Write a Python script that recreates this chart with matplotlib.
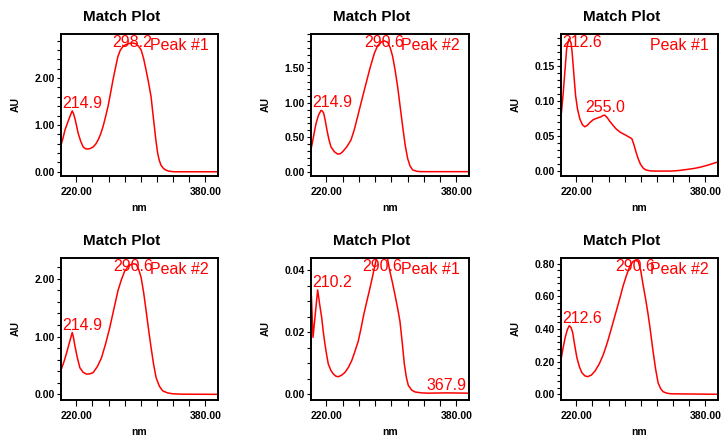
import numpy as np
import matplotlib
matplotlib.use('Agg')
import matplotlib.pyplot as plt
import matplotlib.transforms as mtransforms
from matplotlib.ticker import FixedLocator, MultipleLocator, FuncFormatter

plt.rcParams['font.family'] = ['Liberation Sans', 'DejaVu Sans']

W, H = 723, 437

# spectra (wavelength nm, absorbance AU)
nm1 = [201, 203.5, 205.9, 209, 212, 214.9, 216.5, 218.2, 220.3, 222.3, 225.4, 228.5, 231.5, 234.6,
       237.7, 240.8, 244, 247, 250, 253, 256, 259.2, 262.3, 265.4, 268.5, 271.5, 274.6, 277.7,
       280.8, 283.8, 289, 294.1, 297, 300.3, 303.3, 306.4, 309.5, 312.6, 314.6, 316.7, 318.7,
       320.8, 322.8, 324.9, 328, 331, 335, 341.3, 395.5]
au1 = [0.57, 0.72, 0.89, 1.04, 1.18, 1.30, 1.24, 1.14, 0.98, 0.82, 0.65, 0.53, 0.49, 0.485,
       0.50, 0.53, 0.59, 0.68, 0.80, 0.96, 1.16, 1.39, 1.67, 1.96, 2.22, 2.46, 2.60, 2.67,
       2.71, 2.73, 2.75, 2.73, 2.68, 2.60, 2.42, 2.17, 1.90, 1.60, 1.28, 0.96, 0.65,
       0.39, 0.24, 0.14, 0.07, 0.035, 0.012, 0.0, 0.0]

nm2 = [201, 202.2, 204.7, 207.2, 210.2, 213.3, 215, 216.6, 218.6, 220.7, 223, 225.6, 229.7,
       233.8, 237, 240, 245, 250.2, 254.3, 258.4, 263.5, 268.7, 274, 279, 283, 287.2, 291.3,
       295.4, 298.5, 301.6, 304.6, 307.7, 310.8, 313.9, 317, 320, 323, 326.2, 331, 336, 395.5]
au2 = [0.33, 0.39, 0.55, 0.70, 0.82, 0.89, 0.88, 0.85, 0.74, 0.60, 0.47, 0.36, 0.29,
       0.256, 0.26, 0.29, 0.36, 0.46, 0.61, 0.80, 1.04, 1.28, 1.52, 1.72, 1.83, 1.88, 1.90,
       1.88, 1.80, 1.67, 1.47, 1.23, 0.94, 0.65, 0.38, 0.19, 0.08, 0.025, 0.006, 0.0, 0.0]

nm3 = [201.5, 203.3, 205.1, 208, 210.8, 213.3, 214.7, 216.1, 217.6, 219.1, 221.5, 224.4, 227.5,
       230.5, 233.5, 236.7, 240.8, 244.9, 250, 253, 255.2, 258.3, 261.3, 265.5, 269.6, 274.7,
       279.8, 284.3, 288.8, 291.5, 294.2, 296.8, 299.5, 303, 306.5, 311.6, 316.7, 337, 347,
       357.7, 366, 374.1, 383, 392.6, 395.5]
au3 = [0.083, 0.105, 0.131, 0.174, 0.188, 0.183, 0.17, 0.15, 0.128, 0.107, 0.088, 0.074, 0.066,
       0.063, 0.065, 0.069, 0.073, 0.075, 0.077, 0.079, 0.0796, 0.076, 0.071, 0.065, 0.0596, 0.055,
       0.052, 0.049, 0.046, 0.037, 0.026, 0.017, 0.0096, 0.004, 0.0014, 0.0003, 0.0, 0.0, 0.0008,
       0.0024, 0.0038, 0.0057, 0.0085, 0.012, 0.013]

nm4 = [201.5, 204.8, 208, 211.5, 214.9, 216.5, 218.2, 221.3, 224.4, 228.5, 232.6, 236.7, 240.8,
       246, 251.1, 256.2, 261.3, 266.4, 271.5, 275.7, 279.8, 284, 288, 291, 294.2, 297.3, 300.3,
       303.4, 306.5, 309.5, 312.6, 315.7, 318.8, 322.9, 327, 333, 339, 350, 395.5]
au4 = [0.44, 0.57, 0.72, 0.90, 1.07, 0.98, 0.84, 0.63, 0.46, 0.38, 0.35, 0.355, 0.375,
       0.48, 0.63, 0.87, 1.15, 1.47, 1.79, 1.98, 2.13, 2.21, 2.25, 2.26, 2.25, 2.16, 2.02,
       1.76, 1.44, 1.12, 0.81, 0.52, 0.29, 0.14, 0.06, 0.025, 0.01, 0.003, 0.0]

nm5 = [201.5, 203.5, 206.3, 209.2, 211.7, 214.2, 216.2, 218.2, 220.3, 222.3, 225.4, 228.5, 231.5,
       234.6, 238.7, 242.8, 247, 251, 255, 259.2, 262.5, 265.9, 269.7, 273.6, 276.7, 279.8,
       284.4, 289, 293.6, 298.2, 301.3, 304.4, 307.5, 310.5, 313.2, 315.9, 318.4, 320.8, 324.9,
       329, 337, 345.4, 367.9, 395]
au5 = [0.0316, 0.0184, 0.026, 0.0337, 0.029, 0.0247, 0.020, 0.0162, 0.0127, 0.0098, 0.0078,
       0.0066, 0.0059, 0.0057, 0.0062, 0.0071, 0.0087, 0.0108, 0.0138, 0.0172, 0.0212, 0.0257,
       0.030, 0.0343, 0.038, 0.0417, 0.047, 0.050, 0.046, 0.0396, 0.036, 0.0321, 0.028, 0.0236,
       0.017, 0.0098, 0.0055, 0.0029, 0.0014, 0.0008, 0.0005, 0.0004, 0.0005, 0.0004]

nm6 = [201.4, 203.8, 206.3, 208.8, 211.2, 213.3, 215.4, 218, 220.7, 223.7, 226.8, 230.5, 234.2,
       238.7, 243.2, 248.3, 253.5, 258.6, 263.8, 268.9, 274, 278, 282.2, 286.3, 290.4, 293.5,
       296.6, 299.7, 302.7, 305.8, 308.9, 312, 315, 318.2, 321.3, 324.4, 327.4, 332, 337, 395.5]
au6 = [0.224, 0.29, 0.35, 0.395, 0.42, 0.41, 0.38, 0.30, 0.224, 0.17, 0.133, 0.113, 0.108,
       0.118, 0.143, 0.185, 0.244, 0.32, 0.41, 0.50, 0.59, 0.665, 0.73, 0.785, 0.815, 0.82,
       0.815, 0.76, 0.67, 0.585, 0.49, 0.38, 0.265, 0.155, 0.07, 0.035, 0.016, 0.007, 0.003, 0.0]

peaks1 = ["214.9", "298.2"]
peaks2 = ["214.9", "290.6"]
peaks3 = ["212.6", "255.0"]
peaks4 = ["214.9", "290.6"]
peaks5 = ["210.2", "290.6", "367.9"]
peaks6 = ["212.6", "290.6"]

names = ["Peak #1", "Peak #2", "Peak #1", "Peak #2", "Peak #1", "Peak #2"]

# axis setup per panel: (ymin, ymax, major ticks, minor step)
yaxes = [
    (-0.09, 2.94, [0, 1, 2], 0.2),
    (-0.063, 2.0, [0, 0.5, 1.0, 1.5], 0.1),
    (-0.007, 0.195, [0, 0.05, 0.10, 0.15], 0.01),
    (-0.098, 2.36, [0, 1, 2], 0.2),
    (-0.0018, 0.044, [0, 0.02, 0.04], 0.005),
    (-0.035, 0.835, [0, 0.2, 0.4, 0.6, 0.8], 0.04),
]

# pixel boxes (left, top, right, bottom)
boxes = [(61, 34, 218, 176), (311, 34, 469, 176), (561, 34, 718, 176),
         (61, 258, 218, 400), (311, 258, 469, 400), (561, 258, 718, 400)]

fig = plt.figure(figsize=(W / 100, H / 100), dpi=100)
fig.patch.set_facecolor('white')

peak_texts = []


def draw_panel(i, nm, au, peaks):
    l, t, r, b = boxes[i]
    ax = fig.add_axes([l / W, 1 - b / H, (r - l) / W, (b - t) / H])
    ax.plot(nm, au, color='red', lw=1.1, solid_joinstyle='round')
    ymin, ymax, major, minor = yaxes[i]
    ax.set_xlim(201, 395.5)
    ax.set_ylim(ymin, ymax)

    ax.xaxis.set_major_locator(FixedLocator(list(range(220, 381, 20))))
    ax.xaxis.set_major_formatter(FuncFormatter(lambda v, p: '%.2f' % v if v in (220, 380) else ''))
    ax.yaxis.set_major_locator(FixedLocator(major))
    ax.yaxis.set_minor_locator(MultipleLocator(minor))
    ax.yaxis.set_major_formatter(FuncFormatter(lambda v, p: '%.2f' % v))
    ax.tick_params(axis='x', which='major', direction='out', length=4, width=0.8, pad=4,
                   labelsize=7.5)
    ax.tick_params(axis='y', which='both', direction='out', length=2.8, width=0.8, pad=1.5,
                   labelsize=7.5)
    for lab in ax.get_xticklabels() + ax.get_yticklabels():
        lab.set_fontweight('bold')
    for s in ax.spines.values():
        s.set_linewidth(1.4)

    ax.set_xlabel('nm', fontsize=7.5, fontweight='bold')
    ax.xaxis.set_label_coords(0.5, -27 / (b - t))
    ax.set_ylabel('AU', fontsize=7.5, fontweight='bold')
    ax.yaxis.set_label_coords(-40 / (r - l), 0.5)

    fig.text(((l + r) / 2 - 18) / W, 1 - (t - 17) / H, 'Match Plot', ha='center', va='center',
             fontsize=11, fontweight='bold')

    ax.text(1 - 9 / (r - l), 1 - 4 / (b - t), names[i], transform=ax.transAxes, ha='right',
            va='top', color='red', fontsize=11.5)

    x = np.array(nm)
    y = np.array(au)
    for lab in peaks:
        v = float(lab)
        win = np.where(np.abs(x - v) <= 15)[0]
        k = win[np.argmax(y[win])]
        txt = ax.text(x[k], y[k], lab, ha='center', va='bottom', color='red', fontsize=11.5)
        peak_texts.append((ax, txt))


draw_panel(0, nm1, au1, peaks1)
draw_panel(1, nm2, au2, peaks2)
draw_panel(2, nm3, au3, peaks3)
draw_panel(3, nm4, au4, peaks4)
draw_panel(4, nm5, au5, peaks5)
draw_panel(5, nm6, au6, peaks6)

# push peak labels back inside their plot box
fig.canvas.draw()
renderer = fig.canvas.get_renderer()
for ax, txt in peak_texts:
    bb = txt.get_window_extent(renderer)
    ab = ax.get_window_extent(renderer)
    dx = 0
    dy = 0
    if bb.x0 < ab.x0 + 1:
        dx = ab.x0 + 1 - bb.x0
    if bb.x1 > ab.x1 - 1:
        dx = ab.x1 - 1 - bb.x1
    if bb.y1 > ab.y1 - 1:
        dy = ab.y1 - 1 - bb.y1
    txt.set_transform(txt.get_transform() + mtransforms.Affine2D().translate(dx, dy))

fig.savefig('out.png', dpi=100)
